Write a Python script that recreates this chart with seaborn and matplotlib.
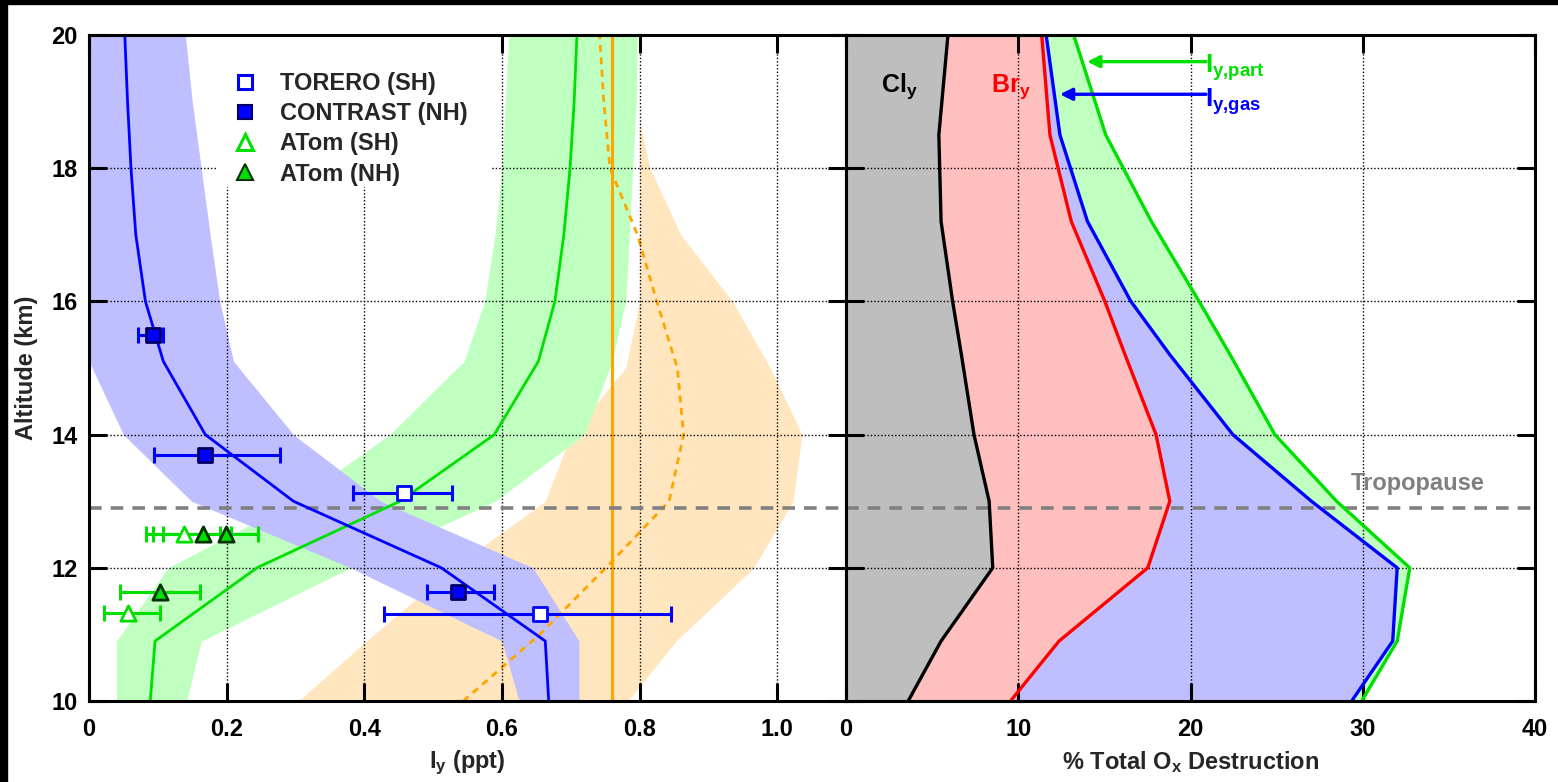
import numpy as np
import pandas as pd
import matplotlib
matplotlib.use("Agg")
import matplotlib.pyplot as plt
from matplotlib.lines import Line2D
from matplotlib.patches import Rectangle
import seaborn as sns

# ---------------- data: left panel (Iy, ppt) ----------------
alt_model = [10, 10.9, 12, 13, 14, 15.1, 16, 17, 18, 19, 20]
iy_gas = [0.668, 0.663, 0.512, 0.297, 0.169, 0.108, 0.082, 0.068, 0.061, 0.056, 0.052]
iy_gas_lo = [0.625, 0.600, 0.380, 0.149, 0.050, 0.0, 0.0, 0.0, 0.0, 0.0, 0.0]
iy_gas_hi = [0.712, 0.712, 0.645, 0.424, 0.297, 0.210, 0.190, 0.176, 0.163, 0.150, 0.140]

iy_part = [0.089, 0.096, 0.244, 0.452, 0.589, 0.653, 0.677, 0.690, 0.699, 0.705, 0.709]
iy_part_lo = [0.040, 0.040, 0.115, 0.300, 0.437, 0.545, 0.575, 0.590, 0.600, 0.605, 0.610]
iy_part_hi = [0.142, 0.163, 0.380, 0.590, 0.720, 0.760, 0.780, 0.785, 0.790, 0.795, 0.797]

alt_dash = [10, 11, 12, 13, 14, 15, 16, 17, 18, 19, 20]
iy_dash = [0.544, 0.655, 0.751, 0.843, 0.864, 0.855, 0.825, 0.797, 0.757, 0.748, 0.742]

alt_orband = [10, 10.9, 12, 13, 14, 15, 16, 17, 18, 18.7]
or_lo = [0.304, 0.403, 0.529, 0.663, 0.700, 0.780, 0.800, 0.800, 0.800, 0.800]
or_hi = [0.783, 0.853, 0.966, 1.023, 1.036, 0.990, 0.935, 0.860, 0.815, 0.800]

iy_const = 0.76

# observations
torero_x = [0.458, 0.656]
torero_alt = [13.12, 11.31]
torero_lo = [0.383, 0.429]
torero_hi = [0.528, 0.845]

contrast_x = [0.093, 0.169, 0.536]
contrast_alt = [15.5, 13.7, 11.64]
contrast_lo = [0.071, 0.094, 0.491]
contrast_hi = [0.107, 0.278, 0.589]

atom_sh_x = [0.138, 0.057]
atom_sh_alt = [12.5, 11.32]
atom_sh_lo = [0.093, 0.022]
atom_sh_hi = [0.190, 0.103]

atom_nh_x = [0.166, 0.199, 0.103]
atom_nh_alt = [12.5, 12.5, 11.64]
atom_nh_lo = [0.083, 0.108, 0.045]
atom_nh_hi = [0.207, 0.246, 0.161]

legend_labels = ["TORERO (SH)", "CONTRAST (NH)", "ATom (SH)", "ATom (NH)"]

# ---------------- data: right panel (% Ox destruction, cumulative) ----------------
alt_r = [10, 10.9, 12, 13, 14, 15.2, 16, 17.2, 18.5, 20]
cly = [3.61, 5.52, 8.52, 8.31, 7.43, 6.70, 6.19, 5.52, 5.39, 5.92]
bry = [9.55, 12.37, 17.52, 18.80, 18.00, 16.20, 15.03, 13.08, 11.84, 11.36]
iy_gas_r = [29.36, 31.74, 32.00, 27.02, 22.46, 18.80, 16.54, 14.02, 12.42, 11.62]
iy_part_r = [29.94, 32.00, 32.73, 28.48, 24.90, 22.30, 20.50, 17.73, 15.08, 13.22]

tropopause = 12.9

# ---------------- style ----------------
sns.set_style("ticks")
plt.rcParams["font.family"] = ["Liberation Sans", "DejaVu Sans"]
plt.rcParams["font.weight"] = "bold"
plt.rcParams["axes.labelweight"] = "bold"
plt.rcParams["mathtext.fontset"] = "custom"
plt.rcParams["mathtext.rm"] = "Liberation Sans:bold"
plt.rcParams["mathtext.bf"] = "Liberation Sans:bold"
plt.rcParams["mathtext.it"] = "Liberation Sans:bold"

FS = 17
BLUE = "#0000FF"
GREEN = "#00E000"
RED = "#FF0000"
ORANGE = "#FFA500"
BLUE_F = "#BFBFFF"
GREEN_F = "#BFFFBF"
ORANGE_F = "#FFE6BF"
GRAY_F = "#BEBEBE"
PINK_F = "#FFBFBF"
TROP = "#808080"

W, H = 1558, 782
fig = plt.figure(figsize=(W / 100, H / 100), dpi=100)
bot = 1 - 701 / H
hgt = 666 / H
ax1 = fig.add_axes([89 / W, bot, (846 - 89) / W, hgt])
ax2 = fig.add_axes([846 / W, bot, (1535 - 846) / W, hgt])

# black border strips of the reference
fig.patches.append(Rectangle((0, 1 - 4 / H), 1, 4 / H, transform=fig.transFigure, color="black", zorder=-1))
fig.patches.append(Rectangle((0, 0), 7 / W, 1, transform=fig.transFigure, color="black", zorder=-1))

# ---------------- left panel ----------------
ax1.fill_betweenx(alt_orband, or_lo, or_hi, color=ORANGE_F, lw=0, zorder=1)
ax1.fill_betweenx(alt_model, iy_part_lo, iy_part_hi, color=GREEN_F, lw=0, zorder=1.1)
ax1.fill_betweenx(alt_model, iy_gas_lo, iy_gas_hi, color=BLUE_F, lw=0, zorder=1.2)

ax1.axvline(iy_const, color=ORANGE, lw=2.2, zorder=2.2)
sns.lineplot(x=iy_dash, y=alt_dash, orient="y", sort=False, estimator=None, ax=ax1,
             color=ORANGE, lw=2.0, linestyle=(0, (2.5, 2.0)), zorder=2.2)
sns.lineplot(x=iy_part, y=alt_model, orient="y", sort=False, estimator=None, ax=ax1,
             color=GREEN, lw=2.0, zorder=3)
sns.lineplot(x=iy_gas, y=alt_model, orient="y", sort=False, estimator=None, ax=ax1,
             color=BLUE, lw=2.0, zorder=3)

ax1.axhline(tropopause, color=TROP, lw=2.6, linestyle=(0, (3.5, 2.5)), zorder=2.8)
ax2.axhline(tropopause, color=TROP, lw=2.6, linestyle=(0, (3.5, 2.5)), zorder=2.8)


def obs(ax, x, y, lo, hi, color, marker, mfc, mec, ms):
    x = np.asarray(x); lo = np.asarray(lo); hi = np.asarray(hi)
    ax.errorbar(x, y, xerr=[x - lo, hi - x], fmt="none", ecolor=color, elinewidth=2.2,
                capsize=6, capthick=2.2, zorder=4)
    df = pd.DataFrame({"x": x, "y": y})
    sns.scatterplot(data=df, x="x", y="y", ax=ax, marker=marker, s=ms ** 2,
                    color=mfc, edgecolor=mec, linewidth=2.0, zorder=5, legend=False)


obs(ax1, atom_sh_x, atom_sh_alt, atom_sh_lo, atom_sh_hi, GREEN, "^", "white", GREEN, 11)
obs(ax1, atom_nh_x, atom_nh_alt, atom_nh_lo, atom_nh_hi, GREEN, "^", GREEN, "#003300", 11)
obs(ax1, torero_x, torero_alt, torero_lo, torero_hi, BLUE, "s", "white", BLUE, 10.5)
obs(ax1, contrast_x, contrast_alt, contrast_lo, contrast_hi, BLUE, "s", BLUE, "#000066", 10.5)

# white background of the legend area (hides grid as in the reference)
ax1.add_patch(Rectangle((0.168, 0.772), 0.364, 0.228, transform=ax1.transAxes,
                        facecolor="white", edgecolor="none", zorder=5.5))

handles = [
    Line2D([], [], ls="none", marker="s", ms=10.5, mfc="white", mec=BLUE, mew=2.2),
    Line2D([], [], ls="none", marker="s", ms=10.5, mfc=BLUE, mec="#000066", mew=1.5),
    Line2D([], [], ls="none", marker="^", ms=11, mfc="white", mec=GREEN, mew=2.2),
    Line2D([], [], ls="none", marker="^", ms=11, mfc=GREEN, mec="#003300", mew=1.5),
]
leg = ax1.legend(handles, legend_labels, loc="upper left", bbox_to_anchor=(0.1873, 0.944),
                 borderaxespad=0, borderpad=0, frameon=False,
                 prop=dict(weight="bold", size=FS), labelspacing=0.3,
                 handletextpad=0.9, handlelength=1.2)
leg.set_zorder(6)

ax1.set_xlim(0, 1.1)
ax1.set_ylim(10, 20)
ax1.set_xticks([0, 0.2, 0.4, 0.6, 0.8, 1.0])
ax1.set_xticklabels(["0", "0.2", "0.4", "0.6", "0.8", "1.0"])
ax1.set_yticks([10, 12, 14, 16, 18, 20])
ax1.set_xlabel(r"I$_\mathbf{y}$ (ppt)", fontsize=FS, fontweight="bold", labelpad=6)
ax1.set_ylabel("Altitude (km)", fontsize=FS, fontweight="bold", labelpad=10)

# ---------------- right panel ----------------
zeros = np.zeros(len(alt_r))
ax2.fill_betweenx(alt_r, zeros, cly, color=GRAY_F, lw=0, zorder=1)
ax2.fill_betweenx(alt_r, cly, bry, color=PINK_F, lw=0, zorder=1)
ax2.fill_betweenx(alt_r, bry, iy_gas_r, color=BLUE_F, lw=0, zorder=1)
ax2.fill_betweenx(alt_r, iy_gas_r, iy_part_r, color=GREEN_F, lw=0, zorder=1)
for vals, col in [(cly, "black"), (bry, RED), (iy_gas_r, BLUE), (iy_part_r, GREEN)]:
    sns.lineplot(x=vals, y=alt_r, orient="y", sort=False, estimator=None, ax=ax2,
                 color=col, lw=2.4, zorder=3)

ax2.text(2.06, 19.14, r"Cl$_\mathbf{y}$", color="black", fontsize=FS + 1, fontweight="bold",
         ha="left", va="baseline", zorder=6)
ax2.text(8.43, 19.14, r"Br$_\mathbf{y}$", color=RED, fontsize=FS + 1, fontweight="bold",
         ha="left", va="baseline", zorder=6)
ax2.annotate("", xy=(14.0, 19.6), xytext=(20.9, 19.6),
             arrowprops=dict(arrowstyle="-|>", color=GREEN, lw=2.4, mutation_scale=18,
                             shrinkA=0, shrinkB=0), zorder=6)
ax2.annotate("", xy=(12.42, 19.11), xytext=(20.9, 19.11),
             arrowprops=dict(arrowstyle="-|>", color=BLUE, lw=2.4, mutation_scale=18,
                             shrinkA=0, shrinkB=0), zorder=6)
ax2.text(20.85, 19.43, r"I$_\mathbf{y{,}part}$", color=GREEN, fontsize=FS + 2, fontweight="bold",
         ha="left", va="baseline", zorder=6)
ax2.text(20.85, 18.92, r"I$_\mathbf{y{,}gas}$", color=BLUE, fontsize=FS + 2, fontweight="bold",
         ha="left", va="baseline", zorder=6)
ax2.text(29.3, 13.17, "Tropopause", color=TROP, fontsize=FS, fontweight="bold",
         ha="left", va="baseline", zorder=6)

ax2.set_xlim(0, 40)
ax2.set_ylim(10, 20)
ax2.set_xticks([0, 10, 20, 30, 40])
ax2.set_yticks([10, 12, 14, 16, 18, 20])
ax2.set_yticklabels([])
ax2.set_ylabel("")
ax2.set_xlabel(r"% Total O$_\mathbf{x}$ Destruction", fontsize=FS, fontweight="bold", labelpad=6)

# ---------------- common axes styling ----------------
for ax in (ax1, ax2):
    ax.set_axisbelow(False)
    for sp in ax.spines.values():
        sp.set_linewidth(2.2)
        sp.set_color("black")
        sp.set_zorder(7)
    ax.tick_params(axis="both", which="major", direction="in", length=13, width=2.2,
                   top=True, right=True, labelsize=FS, colors="black")
    ax.tick_params(axis="x", pad=12)
    ax.tick_params(axis="y", pad=8)
    ax.grid(True, color="black", lw=1.0, linestyle=(0, (1, 1.5)))
    for lab in ax.get_xticklabels() + ax.get_yticklabels():
        lab.set_fontweight("bold")

fig.savefig("out.png", dpi=100)
